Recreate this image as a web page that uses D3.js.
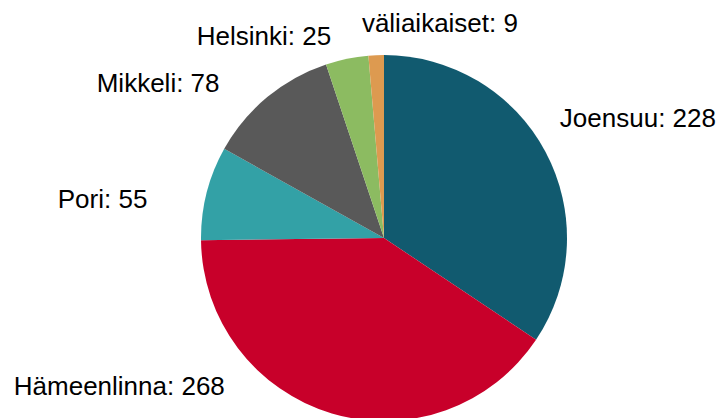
<!DOCTYPE html>
<html>
<head>
<meta charset="utf-8">
<script src="https://cdn.jsdelivr.net/npm/d3@7"></script>
<style>
  html, body { margin: 0; padding: 0; background: #fff; }
  svg { display: block; }
</style>
</head>
<body>
<svg id="chart"></svg>
<script>
// categories and values, in drawing order (clockwise from 12 o'clock)
const cities = ['Joensuu', 'Hämeenlinna', 'Pori', 'Mikkeli', 'Helsinki', 'väliaikaiset'];
const counts = [228, 268, 55, 78, 25, 9];
const colors = ['#115a6f', '#c8002a', '#33a1a6', '#595959', '#8cbb61', '#dd9a50'];

(function() {
    const width = 718;
    const height = 418;
    const cx = 384;
    const cy = 238;
    const radius = 183;

    // best-fit label nudges (layout only), relative to a point just outside the rim
    const labelNudge = [[66, -20], [-204, -56], [-75, 13], [-90, 9], [-77, 6], [65, -2]];

    const svg = d3.select('svg#chart')
        .attr('width', width)
        .attr('height', height);

    const data = cities.map((c, i) => ({ city: c, value: counts[i], color: colors[i], i: i }));

    const pie = d3.pie()
        .value((d) => d.value)
        .sort(null);

    const arc = d3.arc()
        .innerRadius(0)
        .outerRadius(radius);

    const labelArc = d3.arc()
        .innerRadius(radius + 30)
        .outerRadius(radius + 30);

    const chart = svg.append('g')
        .attr('transform', `translate(${cx}, ${cy})`);

    const slices = pie(data);

    chart.selectAll('path')
        .data(slices)
        .enter()
        .append('path')
        .attr('d', arc)
        .attr('fill', (d) => d.data.color);

    chart.selectAll('text')
        .data(slices)
        .enter()
        .append('text')
        .attr('transform', (d) => {
            // point on the label ring at the slice's mid angle
            const a = (d.startAngle + d.endAngle) / 2;
            const r = radius + 30;
            const n = labelNudge[d.data.i];
            return `translate(${r * Math.sin(a) + n[0]}, ${-r * Math.cos(a) + n[1]})`;
        })
        .attr('dy', '0.35em')
        .attr('text-anchor', 'middle')
        .style('font-family', 'Liberation Sans, Arial, sans-serif')
        .style('font-size', '26px')
        .attr('fill', '#000')
        .text((d) => `${d.data.city}: ${d.data.value}`);
})();
</script>
</body>
</html>
